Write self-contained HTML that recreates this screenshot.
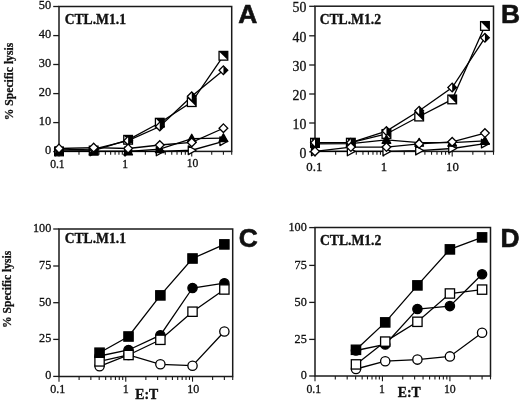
<!DOCTYPE html>
<html><head><meta charset="utf-8"><style>
html,body{margin:0;padding:0;background:#fff;}
svg{display:block;will-change:transform;}
</style></head><body>
<svg width="520" height="401" viewBox="0 0 520 401">
<rect width="520" height="401" fill="#fff"/>
<rect x="59" y="6.5" width="172.7" height="144.9" fill="none" stroke="#1a1a1a" stroke-width="1.5"/>
<line x1="53.2" y1="151.6" x2="59" y2="151.6" stroke="#1a1a1a" stroke-width="1.3"/>
<line x1="53.2" y1="122.6" x2="59" y2="122.6" stroke="#1a1a1a" stroke-width="1.3"/>
<line x1="53.2" y1="93.6" x2="59" y2="93.6" stroke="#1a1a1a" stroke-width="1.3"/>
<line x1="53.2" y1="64.5" x2="59" y2="64.5" stroke="#1a1a1a" stroke-width="1.3"/>
<line x1="53.2" y1="35.6" x2="59" y2="35.6" stroke="#1a1a1a" stroke-width="1.3"/>
<line x1="53.2" y1="6.5" x2="59" y2="6.5" stroke="#1a1a1a" stroke-width="1.3"/>
<line x1="59" y1="151.4" x2="59" y2="156.6" stroke="#1a1a1a" stroke-width="1.1"/>
<line x1="78.98" y1="151.4" x2="78.98" y2="154.8" stroke="#1a1a1a" stroke-width="1.1"/>
<line x1="90.67" y1="151.4" x2="90.67" y2="154.8" stroke="#1a1a1a" stroke-width="1.1"/>
<line x1="98.96" y1="151.4" x2="98.96" y2="154.8" stroke="#1a1a1a" stroke-width="1.1"/>
<line x1="105.39" y1="151.4" x2="105.39" y2="154.8" stroke="#1a1a1a" stroke-width="1.1"/>
<line x1="110.65" y1="151.4" x2="110.65" y2="154.8" stroke="#1a1a1a" stroke-width="1.1"/>
<line x1="115.09" y1="151.4" x2="115.09" y2="154.8" stroke="#1a1a1a" stroke-width="1.1"/>
<line x1="118.94" y1="151.4" x2="118.94" y2="154.8" stroke="#1a1a1a" stroke-width="1.1"/>
<line x1="122.33" y1="151.4" x2="122.33" y2="154.8" stroke="#1a1a1a" stroke-width="1.1"/>
<line x1="125.37" y1="151.4" x2="125.37" y2="156.6" stroke="#1a1a1a" stroke-width="1.1"/>
<line x1="145.35" y1="151.4" x2="145.35" y2="154.8" stroke="#1a1a1a" stroke-width="1.1"/>
<line x1="157.04" y1="151.4" x2="157.04" y2="154.8" stroke="#1a1a1a" stroke-width="1.1"/>
<line x1="165.33" y1="151.4" x2="165.33" y2="154.8" stroke="#1a1a1a" stroke-width="1.1"/>
<line x1="171.76" y1="151.4" x2="171.76" y2="154.8" stroke="#1a1a1a" stroke-width="1.1"/>
<line x1="177.02" y1="151.4" x2="177.02" y2="154.8" stroke="#1a1a1a" stroke-width="1.1"/>
<line x1="181.46" y1="151.4" x2="181.46" y2="154.8" stroke="#1a1a1a" stroke-width="1.1"/>
<line x1="185.31" y1="151.4" x2="185.31" y2="154.8" stroke="#1a1a1a" stroke-width="1.1"/>
<line x1="188.7" y1="151.4" x2="188.7" y2="154.8" stroke="#1a1a1a" stroke-width="1.1"/>
<line x1="191.74" y1="151.4" x2="191.74" y2="156.6" stroke="#1a1a1a" stroke-width="1.1"/>
<line x1="211.72" y1="151.4" x2="211.72" y2="154.8" stroke="#1a1a1a" stroke-width="1.1"/>
<line x1="223.41" y1="151.4" x2="223.41" y2="154.8" stroke="#1a1a1a" stroke-width="1.1"/>
<line x1="231.7" y1="151.4" x2="231.7" y2="154.8" stroke="#1a1a1a" stroke-width="1.1"/>
<rect x="315" y="6.2" width="178.5" height="145.2" fill="none" stroke="#1a1a1a" stroke-width="1.5"/>
<line x1="309.2" y1="151.8" x2="315" y2="151.8" stroke="#1a1a1a" stroke-width="1.3"/>
<line x1="309.2" y1="123" x2="315" y2="123" stroke="#1a1a1a" stroke-width="1.3"/>
<line x1="309.2" y1="94" x2="315" y2="94" stroke="#1a1a1a" stroke-width="1.3"/>
<line x1="309.2" y1="65" x2="315" y2="65" stroke="#1a1a1a" stroke-width="1.3"/>
<line x1="309.2" y1="35.8" x2="315" y2="35.8" stroke="#1a1a1a" stroke-width="1.3"/>
<line x1="309.2" y1="6.3" x2="315" y2="6.3" stroke="#1a1a1a" stroke-width="1.3"/>
<line x1="315" y1="151.4" x2="315" y2="156.6" stroke="#1a1a1a" stroke-width="1.1"/>
<line x1="335.65" y1="151.4" x2="335.65" y2="154.8" stroke="#1a1a1a" stroke-width="1.1"/>
<line x1="347.73" y1="151.4" x2="347.73" y2="154.8" stroke="#1a1a1a" stroke-width="1.1"/>
<line x1="356.3" y1="151.4" x2="356.3" y2="154.8" stroke="#1a1a1a" stroke-width="1.1"/>
<line x1="362.95" y1="151.4" x2="362.95" y2="154.8" stroke="#1a1a1a" stroke-width="1.1"/>
<line x1="368.38" y1="151.4" x2="368.38" y2="154.8" stroke="#1a1a1a" stroke-width="1.1"/>
<line x1="372.97" y1="151.4" x2="372.97" y2="154.8" stroke="#1a1a1a" stroke-width="1.1"/>
<line x1="376.95" y1="151.4" x2="376.95" y2="154.8" stroke="#1a1a1a" stroke-width="1.1"/>
<line x1="380.46" y1="151.4" x2="380.46" y2="154.8" stroke="#1a1a1a" stroke-width="1.1"/>
<line x1="383.6" y1="151.4" x2="383.6" y2="156.6" stroke="#1a1a1a" stroke-width="1.1"/>
<line x1="404.25" y1="151.4" x2="404.25" y2="154.8" stroke="#1a1a1a" stroke-width="1.1"/>
<line x1="416.33" y1="151.4" x2="416.33" y2="154.8" stroke="#1a1a1a" stroke-width="1.1"/>
<line x1="424.9" y1="151.4" x2="424.9" y2="154.8" stroke="#1a1a1a" stroke-width="1.1"/>
<line x1="431.55" y1="151.4" x2="431.55" y2="154.8" stroke="#1a1a1a" stroke-width="1.1"/>
<line x1="436.98" y1="151.4" x2="436.98" y2="154.8" stroke="#1a1a1a" stroke-width="1.1"/>
<line x1="441.57" y1="151.4" x2="441.57" y2="154.8" stroke="#1a1a1a" stroke-width="1.1"/>
<line x1="445.55" y1="151.4" x2="445.55" y2="154.8" stroke="#1a1a1a" stroke-width="1.1"/>
<line x1="449.06" y1="151.4" x2="449.06" y2="154.8" stroke="#1a1a1a" stroke-width="1.1"/>
<line x1="452.2" y1="151.4" x2="452.2" y2="156.6" stroke="#1a1a1a" stroke-width="1.1"/>
<line x1="472.85" y1="151.4" x2="472.85" y2="154.8" stroke="#1a1a1a" stroke-width="1.1"/>
<line x1="484.93" y1="151.4" x2="484.93" y2="154.8" stroke="#1a1a1a" stroke-width="1.1"/>
<line x1="493.5" y1="151.4" x2="493.5" y2="154.8" stroke="#1a1a1a" stroke-width="1.1"/>
<rect x="59" y="229" width="173.7" height="147.5" fill="none" stroke="#1a1a1a" stroke-width="1.5"/>
<line x1="53.2" y1="376.4" x2="59" y2="376.4" stroke="#1a1a1a" stroke-width="1.3"/>
<line x1="53.2" y1="339.4" x2="59" y2="339.4" stroke="#1a1a1a" stroke-width="1.3"/>
<line x1="53.2" y1="302.7" x2="59" y2="302.7" stroke="#1a1a1a" stroke-width="1.3"/>
<line x1="53.2" y1="266" x2="59" y2="266" stroke="#1a1a1a" stroke-width="1.3"/>
<line x1="53.2" y1="229" x2="59" y2="229" stroke="#1a1a1a" stroke-width="1.3"/>
<line x1="59" y1="376.5" x2="59" y2="381.7" stroke="#1a1a1a" stroke-width="1.1"/>
<line x1="79.1" y1="376.5" x2="79.1" y2="379.9" stroke="#1a1a1a" stroke-width="1.1"/>
<line x1="90.85" y1="376.5" x2="90.85" y2="379.9" stroke="#1a1a1a" stroke-width="1.1"/>
<line x1="99.19" y1="376.5" x2="99.19" y2="379.9" stroke="#1a1a1a" stroke-width="1.1"/>
<line x1="105.66" y1="376.5" x2="105.66" y2="379.9" stroke="#1a1a1a" stroke-width="1.1"/>
<line x1="110.95" y1="376.5" x2="110.95" y2="379.9" stroke="#1a1a1a" stroke-width="1.1"/>
<line x1="115.42" y1="376.5" x2="115.42" y2="379.9" stroke="#1a1a1a" stroke-width="1.1"/>
<line x1="119.29" y1="376.5" x2="119.29" y2="379.9" stroke="#1a1a1a" stroke-width="1.1"/>
<line x1="122.71" y1="376.5" x2="122.71" y2="379.9" stroke="#1a1a1a" stroke-width="1.1"/>
<line x1="125.76" y1="376.5" x2="125.76" y2="381.7" stroke="#1a1a1a" stroke-width="1.1"/>
<line x1="145.86" y1="376.5" x2="145.86" y2="379.9" stroke="#1a1a1a" stroke-width="1.1"/>
<line x1="157.61" y1="376.5" x2="157.61" y2="379.9" stroke="#1a1a1a" stroke-width="1.1"/>
<line x1="165.95" y1="376.5" x2="165.95" y2="379.9" stroke="#1a1a1a" stroke-width="1.1"/>
<line x1="172.42" y1="376.5" x2="172.42" y2="379.9" stroke="#1a1a1a" stroke-width="1.1"/>
<line x1="177.71" y1="376.5" x2="177.71" y2="379.9" stroke="#1a1a1a" stroke-width="1.1"/>
<line x1="182.18" y1="376.5" x2="182.18" y2="379.9" stroke="#1a1a1a" stroke-width="1.1"/>
<line x1="186.05" y1="376.5" x2="186.05" y2="379.9" stroke="#1a1a1a" stroke-width="1.1"/>
<line x1="189.47" y1="376.5" x2="189.47" y2="379.9" stroke="#1a1a1a" stroke-width="1.1"/>
<line x1="192.52" y1="376.5" x2="192.52" y2="381.7" stroke="#1a1a1a" stroke-width="1.1"/>
<line x1="212.62" y1="376.5" x2="212.62" y2="379.9" stroke="#1a1a1a" stroke-width="1.1"/>
<line x1="224.37" y1="376.5" x2="224.37" y2="379.9" stroke="#1a1a1a" stroke-width="1.1"/>
<line x1="232.71" y1="376.5" x2="232.71" y2="379.9" stroke="#1a1a1a" stroke-width="1.1"/>
<rect x="315" y="227.5" width="175.5" height="148.5" fill="none" stroke="#1a1a1a" stroke-width="1.5"/>
<line x1="309.2" y1="376" x2="315" y2="376" stroke="#1a1a1a" stroke-width="1.3"/>
<line x1="309.2" y1="339.4" x2="315" y2="339.4" stroke="#1a1a1a" stroke-width="1.3"/>
<line x1="309.2" y1="302.4" x2="315" y2="302.4" stroke="#1a1a1a" stroke-width="1.3"/>
<line x1="309.2" y1="265.4" x2="315" y2="265.4" stroke="#1a1a1a" stroke-width="1.3"/>
<line x1="309.2" y1="227.6" x2="315" y2="227.6" stroke="#1a1a1a" stroke-width="1.3"/>
<line x1="315" y1="376" x2="315" y2="381.2" stroke="#1a1a1a" stroke-width="1.1"/>
<line x1="335.3" y1="376" x2="335.3" y2="379.4" stroke="#1a1a1a" stroke-width="1.1"/>
<line x1="347.18" y1="376" x2="347.18" y2="379.4" stroke="#1a1a1a" stroke-width="1.1"/>
<line x1="355.61" y1="376" x2="355.61" y2="379.4" stroke="#1a1a1a" stroke-width="1.1"/>
<line x1="362.15" y1="376" x2="362.15" y2="379.4" stroke="#1a1a1a" stroke-width="1.1"/>
<line x1="367.49" y1="376" x2="367.49" y2="379.4" stroke="#1a1a1a" stroke-width="1.1"/>
<line x1="372" y1="376" x2="372" y2="379.4" stroke="#1a1a1a" stroke-width="1.1"/>
<line x1="375.91" y1="376" x2="375.91" y2="379.4" stroke="#1a1a1a" stroke-width="1.1"/>
<line x1="379.36" y1="376" x2="379.36" y2="379.4" stroke="#1a1a1a" stroke-width="1.1"/>
<line x1="382.45" y1="376" x2="382.45" y2="381.2" stroke="#1a1a1a" stroke-width="1.1"/>
<line x1="402.75" y1="376" x2="402.75" y2="379.4" stroke="#1a1a1a" stroke-width="1.1"/>
<line x1="414.63" y1="376" x2="414.63" y2="379.4" stroke="#1a1a1a" stroke-width="1.1"/>
<line x1="423.06" y1="376" x2="423.06" y2="379.4" stroke="#1a1a1a" stroke-width="1.1"/>
<line x1="429.6" y1="376" x2="429.6" y2="379.4" stroke="#1a1a1a" stroke-width="1.1"/>
<line x1="434.94" y1="376" x2="434.94" y2="379.4" stroke="#1a1a1a" stroke-width="1.1"/>
<line x1="439.45" y1="376" x2="439.45" y2="379.4" stroke="#1a1a1a" stroke-width="1.1"/>
<line x1="443.36" y1="376" x2="443.36" y2="379.4" stroke="#1a1a1a" stroke-width="1.1"/>
<line x1="446.81" y1="376" x2="446.81" y2="379.4" stroke="#1a1a1a" stroke-width="1.1"/>
<line x1="449.9" y1="376" x2="449.9" y2="381.2" stroke="#1a1a1a" stroke-width="1.1"/>
<line x1="470.2" y1="376" x2="470.2" y2="379.4" stroke="#1a1a1a" stroke-width="1.1"/>
<line x1="482.08" y1="376" x2="482.08" y2="379.4" stroke="#1a1a1a" stroke-width="1.1"/>
<line x1="490.51" y1="376" x2="490.51" y2="379.4" stroke="#1a1a1a" stroke-width="1.1"/>
<text x="51.2" y="154" font-family="Liberation Serif" font-size="12.4" font-weight="normal" text-anchor="end" fill="#111" stroke="#111" stroke-width="0.3" >0</text>
<text x="51.2" y="125" font-family="Liberation Serif" font-size="12.4" font-weight="normal" text-anchor="end" fill="#111" stroke="#111" stroke-width="0.3" >10</text>
<text x="51.2" y="96" font-family="Liberation Serif" font-size="12.4" font-weight="normal" text-anchor="end" fill="#111" stroke="#111" stroke-width="0.3" >20</text>
<text x="51.2" y="66.9" font-family="Liberation Serif" font-size="12.4" font-weight="normal" text-anchor="end" fill="#111" stroke="#111" stroke-width="0.3" >30</text>
<text x="51.2" y="38" font-family="Liberation Serif" font-size="12.4" font-weight="normal" text-anchor="end" fill="#111" stroke="#111" stroke-width="0.3" >40</text>
<text x="51.2" y="8.9" font-family="Liberation Serif" font-size="12.4" font-weight="normal" text-anchor="end" fill="#111" stroke="#111" stroke-width="0.3" >50</text>
<text x="306.3" y="157.6" font-family="Liberation Serif" font-size="13.8" font-weight="normal" text-anchor="end" fill="#111" stroke="#111" stroke-width="0.3" >0</text>
<text x="306.3" y="128.8" font-family="Liberation Serif" font-size="13.8" font-weight="normal" text-anchor="end" fill="#111" stroke="#111" stroke-width="0.3" >10</text>
<text x="306.3" y="99.8" font-family="Liberation Serif" font-size="13.8" font-weight="normal" text-anchor="end" fill="#111" stroke="#111" stroke-width="0.3" >20</text>
<text x="306.3" y="70.8" font-family="Liberation Serif" font-size="13.8" font-weight="normal" text-anchor="end" fill="#111" stroke="#111" stroke-width="0.3" >30</text>
<text x="306.3" y="41.6" font-family="Liberation Serif" font-size="13.8" font-weight="normal" text-anchor="end" fill="#111" stroke="#111" stroke-width="0.3" >40</text>
<text x="306.3" y="12.1" font-family="Liberation Serif" font-size="13.8" font-weight="normal" text-anchor="end" fill="#111" stroke="#111" stroke-width="0.3" >50</text>
<text x="51.3" y="379.4" font-family="Liberation Serif" font-size="12.2" font-weight="normal" text-anchor="end" fill="#111" stroke="#111" stroke-width="0.3" >0</text>
<text x="51.3" y="342.4" font-family="Liberation Serif" font-size="12.2" font-weight="normal" text-anchor="end" fill="#111" stroke="#111" stroke-width="0.3" >25</text>
<text x="51.3" y="305.7" font-family="Liberation Serif" font-size="12.2" font-weight="normal" text-anchor="end" fill="#111" stroke="#111" stroke-width="0.3" >50</text>
<text x="51.3" y="269" font-family="Liberation Serif" font-size="12.2" font-weight="normal" text-anchor="end" fill="#111" stroke="#111" stroke-width="0.3" >75</text>
<text x="51.3" y="232" font-family="Liberation Serif" font-size="12.2" font-weight="normal" text-anchor="end" fill="#111" stroke="#111" stroke-width="0.3" >100</text>
<text x="306.8" y="379.2" font-family="Liberation Serif" font-size="12.2" font-weight="normal" text-anchor="end" fill="#111" stroke="#111" stroke-width="0.3" >0</text>
<text x="306.8" y="342.6" font-family="Liberation Serif" font-size="12.2" font-weight="normal" text-anchor="end" fill="#111" stroke="#111" stroke-width="0.3" >25</text>
<text x="306.8" y="305.6" font-family="Liberation Serif" font-size="12.2" font-weight="normal" text-anchor="end" fill="#111" stroke="#111" stroke-width="0.3" >50</text>
<text x="306.8" y="268.6" font-family="Liberation Serif" font-size="12.2" font-weight="normal" text-anchor="end" fill="#111" stroke="#111" stroke-width="0.3" >75</text>
<text x="306.8" y="230.8" font-family="Liberation Serif" font-size="12.2" font-weight="normal" text-anchor="end" fill="#111" stroke="#111" stroke-width="0.3" >100</text>
<text x="57.4" y="167.9" font-family="Liberation Serif" font-size="11.6" font-weight="normal" text-anchor="middle" fill="#111" stroke="#111" stroke-width="0.3" >0.1</text>
<text x="125.25" y="167.7" font-family="Liberation Serif" font-size="11.6" font-weight="normal" text-anchor="middle" fill="#111" stroke="#111" stroke-width="0.3" >1</text>
<text x="192.5" y="167.3" font-family="Liberation Serif" font-size="11.6" font-weight="normal" text-anchor="middle" fill="#111" stroke="#111" stroke-width="0.3" >10</text>
<text x="314.3" y="171" font-family="Liberation Serif" font-size="12.8" font-weight="normal" text-anchor="middle" fill="#111" stroke="#111" stroke-width="0.3" >0.1</text>
<text x="384" y="170.8" font-family="Liberation Serif" font-size="12.8" font-weight="normal" text-anchor="middle" fill="#111" stroke="#111" stroke-width="0.3" >1</text>
<text x="452.5" y="170.8" font-family="Liberation Serif" font-size="12.8" font-weight="normal" text-anchor="middle" fill="#111" stroke="#111" stroke-width="0.3" >10</text>
<text x="57.75" y="393" font-family="Liberation Serif" font-size="12.0" font-weight="normal" text-anchor="middle" fill="#111" stroke="#111" stroke-width="0.3" >0.1</text>
<text x="125.8" y="392.8" font-family="Liberation Serif" font-size="12.0" font-weight="normal" text-anchor="middle" fill="#111" stroke="#111" stroke-width="0.3" >1</text>
<text x="193.2" y="393" font-family="Liberation Serif" font-size="12.0" font-weight="normal" text-anchor="middle" fill="#111" stroke="#111" stroke-width="0.3" >10</text>
<text x="313.8" y="392.8" font-family="Liberation Serif" font-size="11.8" font-weight="normal" text-anchor="middle" fill="#111" stroke="#111" stroke-width="0.3" >0.1</text>
<text x="381.9" y="392.7" font-family="Liberation Serif" font-size="11.8" font-weight="normal" text-anchor="middle" fill="#111" stroke="#111" stroke-width="0.3" >1</text>
<text x="449.8" y="392.8" font-family="Liberation Serif" font-size="11.8" font-weight="normal" text-anchor="middle" fill="#111" stroke="#111" stroke-width="0.3" >10</text>
<text x="64.7" y="23.8" font-family="Liberation Serif" font-size="13.8" font-weight="bold" text-anchor="start" fill="#111" stroke="#111" stroke-width="0.35" textLength="61.3" lengthAdjust="spacingAndGlyphs">CTL.M1.1</text>
<text x="319.7" y="23.8" font-family="Liberation Serif" font-size="13.8" font-weight="bold" text-anchor="start" fill="#111" stroke="#111" stroke-width="0.35" textLength="61.3" lengthAdjust="spacingAndGlyphs">CTL.M1.2</text>
<text x="64.7" y="243.1" font-family="Liberation Serif" font-size="13.8" font-weight="bold" text-anchor="start" fill="#111" stroke="#111" stroke-width="0.35" textLength="61.3" lengthAdjust="spacingAndGlyphs">CTL.M1.1</text>
<text x="320" y="244.6" font-family="Liberation Serif" font-size="13.8" font-weight="bold" text-anchor="start" fill="#111" stroke="#111" stroke-width="0.35" textLength="61.3" lengthAdjust="spacingAndGlyphs">CTL.M1.2</text>
<text x="238.2" y="22.7" font-family="Liberation Sans" font-size="26.4" font-weight="bold" text-anchor="start" fill="#111" stroke="#111" stroke-width="0.6" >A</text>
<text x="500.9" y="22.8" font-family="Liberation Sans" font-size="26.4" font-weight="bold" text-anchor="start" fill="#111" stroke="#111" stroke-width="0.6" >B</text>
<text x="238.8" y="246.8" font-family="Liberation Sans" font-size="26.4" font-weight="bold" text-anchor="start" fill="#111" stroke="#111" stroke-width="0.6" >C</text>
<text x="500.5" y="247.1" font-family="Liberation Sans" font-size="26.4" font-weight="bold" text-anchor="start" fill="#111" stroke="#111" stroke-width="0.6" >D</text>
<text transform="translate(13.2,81.5) rotate(-90)" x="0" y="0" font-family="Liberation Serif" font-size="11.6" font-weight="bold" text-anchor="middle" fill="#111" stroke="#111" stroke-width="0.25">% Specific lysis</text>
<text transform="translate(10.7,289.3) rotate(-90)" x="0" y="0" font-family="Liberation Serif" font-size="11.6" font-weight="bold" text-anchor="middle" fill="#111" stroke="#111" stroke-width="0.25">% Specific lysis</text>
<text x="135.3" y="399" font-family="Liberation Serif" font-size="13.8" font-weight="bold" text-anchor="start" fill="#111" stroke="#111" stroke-width="0.35" >E:T</text>
<text x="397.8" y="396.9" font-family="Liberation Serif" font-size="13.8" font-weight="bold" text-anchor="start" fill="#111" stroke="#111" stroke-width="0.35" >E:T</text>
<path d="M59,151.4 L93.67,151.4 L128.12,151.4 L159.78,151.4 L191.74,150.24 L223.41,141.26" fill="none" stroke="#000" stroke-width="1.3"/>
<path d="M59,151.4 L93.67,150.53 L128.12,139.81 L159.78,122.71 L191.74,102.13 L223.41,55.77" fill="none" stroke="#000" stroke-width="1.3"/>
<path d="M59,151.4 L93.67,151.4 L128.12,151.4 L159.78,149.08 L191.74,138.65 L223.41,138.07" fill="none" stroke="#000" stroke-width="1.3"/>
<path d="M59,149.95 L93.67,149.08 L128.12,140.68 L159.78,126.48 L191.74,96.34 L223.41,70.26" fill="none" stroke="#000" stroke-width="1.3"/>
<path d="M59,148.5 L93.67,147.63 L128.12,148.5 L159.78,145.02 L191.74,142.42 L223.41,128.22" fill="none" stroke="#000" stroke-width="1.3"/>
<path d="M315,151.4 L350.84,151.4 L386.44,151.4 L419.17,150.53 L452.2,148.5 L484.93,143.56" fill="none" stroke="#000" stroke-width="1.3"/>
<path d="M315,142.69 L350.84,142.69 L386.44,133.98 L419.17,116.55 L452.2,99.42 L484.93,25.95" fill="none" stroke="#000" stroke-width="1.3"/>
<path d="M315,143.85 L350.84,143.56 L386.44,139.78 L419.17,142.69 L452.2,142.69 L484.93,140.95" fill="none" stroke="#000" stroke-width="1.3"/>
<path d="M315,142.69 L350.84,142.69 L386.44,131.07 L419.17,110.74 L452.2,87.51 L484.93,37.85" fill="none" stroke="#000" stroke-width="1.3"/>
<path d="M315,151.4 L350.84,147.04 L386.44,147.04 L419.17,143.85 L452.2,141.82 L484.93,133.1" fill="none" stroke="#000" stroke-width="1.3"/>
<path d="M99.55,366.3 L128.52,355 L160.38,364.3 L192.52,365.7 L224.37,331.5" fill="none" stroke="#000" stroke-width="1.3"/>
<path d="M99.55,356 L128.52,350 L160.38,335.2 L192.52,288 L224.37,283.2" fill="none" stroke="#000" stroke-width="1.3"/>
<path d="M99.55,361.4 L128.52,355 L160.38,339.8 L192.52,311.7 L224.37,289.5" fill="none" stroke="#000" stroke-width="1.3"/>
<path d="M99.55,352.7 L128.52,336.5 L160.38,295.4 L192.52,258.5 L224.37,244.4" fill="none" stroke="#000" stroke-width="1.3"/>
<path d="M355.97,369 L385.24,361.2 L417.42,359.6 L449.9,356.4 L482.08,332.7" fill="none" stroke="#000" stroke-width="1.3"/>
<path d="M355.97,350.5 L385.24,344.5 L417.42,309 L449.9,306.1 L482.08,274.3" fill="none" stroke="#000" stroke-width="1.3"/>
<path d="M355.97,364.4 L385.24,341.6 L417.42,321.8 L449.9,293.5 L482.08,289.6" fill="none" stroke="#000" stroke-width="1.3"/>
<path d="M355.97,349.8 L385.24,322.4 L417.42,285.4 L449.9,249.4 L482.08,237.4" fill="none" stroke="#000" stroke-width="1.3"/>
<path d="M63.35,151.4L55.52,147.05L55.52,155.75Z" fill="#fff" stroke="#000" stroke-width="1.3" stroke-linejoin="round"/>
<path d="M98.02,151.4L90.19,147.05L90.19,155.75Z" fill="#fff" stroke="#000" stroke-width="1.3" stroke-linejoin="round"/>
<path d="M132.47,151.4L124.64,147.05L124.64,155.75Z" fill="#fff" stroke="#000" stroke-width="1.3" stroke-linejoin="round"/>
<path d="M164.13,151.4L156.3,147.05L156.3,155.75Z" fill="#fff" stroke="#000" stroke-width="1.3" stroke-linejoin="round"/>
<path d="M196.09,150.24L188.26,145.89L188.26,154.59Z" fill="#fff" stroke="#000" stroke-width="1.3" stroke-linejoin="round"/>
<path d="M227.76,141.26L219.93,136.91L219.93,145.61Z" fill="#fff" stroke="#000" stroke-width="1.3" stroke-linejoin="round"/>
<rect x="54.65" y="147.05" width="8.7" height="8.7" fill="#fff" stroke="#000" stroke-width="1.3"/><path d="M54.65,147.05L63.35,147.05L63.35,155.75Z" fill="#000"/>
<rect x="89.32" y="146.18" width="8.7" height="8.7" fill="#fff" stroke="#000" stroke-width="1.3"/><path d="M89.32,146.18L98.02,146.18L98.02,154.88Z" fill="#000"/>
<rect x="123.77" y="135.46" width="8.7" height="8.7" fill="#fff" stroke="#000" stroke-width="1.3"/><path d="M123.77,135.46L132.47,135.46L132.47,144.16Z" fill="#000"/>
<rect x="155.43" y="118.36" width="8.7" height="8.7" fill="#fff" stroke="#000" stroke-width="1.3"/><path d="M155.43,118.36L164.13,118.36L164.13,127.06Z" fill="#000"/>
<rect x="187.39" y="97.78" width="8.7" height="8.7" fill="#fff" stroke="#000" stroke-width="1.3"/><path d="M187.39,97.78L196.09,97.78L196.09,106.48Z" fill="#000"/>
<rect x="219.06" y="51.42" width="8.7" height="8.7" fill="#fff" stroke="#000" stroke-width="1.3"/><path d="M219.06,51.42L227.76,51.42L227.76,60.12Z" fill="#000"/>
<path d="M59,147.05L63.35,154.88L54.65,154.88Z" fill="#000" stroke="#000" stroke-width="1.3" stroke-linejoin="round"/>
<path d="M93.67,147.05L98.02,154.88L89.32,154.88Z" fill="#000" stroke="#000" stroke-width="1.3" stroke-linejoin="round"/>
<path d="M128.12,147.05L132.47,154.88L123.77,154.88Z" fill="#000" stroke="#000" stroke-width="1.3" stroke-linejoin="round"/>
<path d="M159.78,144.73L164.13,152.56L155.43,152.56Z" fill="#000" stroke="#000" stroke-width="1.3" stroke-linejoin="round"/>
<path d="M191.74,134.3L196.09,142.13L187.39,142.13Z" fill="#000" stroke="#000" stroke-width="1.3" stroke-linejoin="round"/>
<path d="M223.41,133.72L227.76,141.55L219.06,141.55Z" fill="#000" stroke="#000" stroke-width="1.3" stroke-linejoin="round"/>
<path d="M59,145.6L63.35,149.95L59,154.3L54.65,149.95Z" fill="#fff" stroke="#000" stroke-width="1.3"/><path d="M59,145.6L63.35,149.95L59,154.3Z" fill="#000"/>
<path d="M93.67,144.73L98.02,149.08L93.67,153.43L89.32,149.08Z" fill="#fff" stroke="#000" stroke-width="1.3"/><path d="M93.67,144.73L98.02,149.08L93.67,153.43Z" fill="#000"/>
<path d="M128.12,136.33L132.47,140.68L128.12,145.03L123.77,140.68Z" fill="#fff" stroke="#000" stroke-width="1.3"/><path d="M128.12,136.33L132.47,140.68L128.12,145.03Z" fill="#000"/>
<path d="M159.78,122.13L164.13,126.48L159.78,130.83L155.43,126.48Z" fill="#fff" stroke="#000" stroke-width="1.3"/><path d="M159.78,122.13L164.13,126.48L159.78,130.83Z" fill="#000"/>
<path d="M191.74,91.99L196.09,96.34L191.74,100.69L187.39,96.34Z" fill="#fff" stroke="#000" stroke-width="1.3"/><path d="M191.74,91.99L196.09,96.34L191.74,100.69Z" fill="#000"/>
<path d="M223.41,65.91L227.76,70.26L223.41,74.61L219.06,70.26Z" fill="#fff" stroke="#000" stroke-width="1.3"/><path d="M223.41,65.91L227.76,70.26L223.41,74.61Z" fill="#000"/>
<path d="M59,144.15L63.35,148.5L59,152.85L54.65,148.5Z" fill="#fff" stroke="#000" stroke-width="1.3" stroke-linejoin="miter"/>
<path d="M93.67,143.28L98.02,147.63L93.67,151.98L89.32,147.63Z" fill="#fff" stroke="#000" stroke-width="1.3" stroke-linejoin="miter"/>
<path d="M128.12,144.15L132.47,148.5L128.12,152.85L123.77,148.5Z" fill="#fff" stroke="#000" stroke-width="1.3" stroke-linejoin="miter"/>
<path d="M159.78,140.67L164.13,145.02L159.78,149.37L155.43,145.02Z" fill="#fff" stroke="#000" stroke-width="1.3" stroke-linejoin="miter"/>
<path d="M191.74,138.07L196.09,142.42L191.74,146.77L187.39,142.42Z" fill="#fff" stroke="#000" stroke-width="1.3" stroke-linejoin="miter"/>
<path d="M223.41,123.87L227.76,128.22L223.41,132.57L219.06,128.22Z" fill="#fff" stroke="#000" stroke-width="1.3" stroke-linejoin="miter"/>
<path d="M319.35,151.4L311.52,147.05L311.52,155.75Z" fill="#fff" stroke="#000" stroke-width="1.3" stroke-linejoin="round"/>
<path d="M355.19,151.4L347.36,147.05L347.36,155.75Z" fill="#fff" stroke="#000" stroke-width="1.3" stroke-linejoin="round"/>
<path d="M390.79,151.4L382.96,147.05L382.96,155.75Z" fill="#fff" stroke="#000" stroke-width="1.3" stroke-linejoin="round"/>
<path d="M423.52,150.53L415.69,146.18L415.69,154.88Z" fill="#fff" stroke="#000" stroke-width="1.3" stroke-linejoin="round"/>
<path d="M456.55,148.5L448.72,144.15L448.72,152.85Z" fill="#fff" stroke="#000" stroke-width="1.3" stroke-linejoin="round"/>
<path d="M489.28,143.56L481.45,139.21L481.45,147.91Z" fill="#fff" stroke="#000" stroke-width="1.3" stroke-linejoin="round"/>
<rect x="310.65" y="138.34" width="8.7" height="8.7" fill="#fff" stroke="#000" stroke-width="1.3"/><path d="M310.65,138.34L319.35,138.34L319.35,147.04Z" fill="#000"/>
<rect x="346.49" y="138.34" width="8.7" height="8.7" fill="#fff" stroke="#000" stroke-width="1.3"/><path d="M346.49,138.34L355.19,138.34L355.19,147.04Z" fill="#000"/>
<rect x="382.09" y="129.63" width="8.7" height="8.7" fill="#fff" stroke="#000" stroke-width="1.3"/><path d="M382.09,129.63L390.79,129.63L390.79,138.33Z" fill="#000"/>
<rect x="414.82" y="112.2" width="8.7" height="8.7" fill="#fff" stroke="#000" stroke-width="1.3"/><path d="M414.82,112.2L423.52,112.2L423.52,120.9Z" fill="#000"/>
<rect x="447.85" y="95.07" width="8.7" height="8.7" fill="#fff" stroke="#000" stroke-width="1.3"/><path d="M447.85,95.07L456.55,95.07L456.55,103.77Z" fill="#000"/>
<rect x="480.58" y="21.6" width="8.7" height="8.7" fill="#fff" stroke="#000" stroke-width="1.3"/><path d="M480.58,21.6L489.28,21.6L489.28,30.3Z" fill="#000"/>
<path d="M315,139.5L319.35,147.33L310.65,147.33Z" fill="#000" stroke="#000" stroke-width="1.3" stroke-linejoin="round"/>
<path d="M350.84,139.21L355.19,147.04L346.49,147.04Z" fill="#000" stroke="#000" stroke-width="1.3" stroke-linejoin="round"/>
<path d="M386.44,135.43L390.79,143.26L382.09,143.26Z" fill="#000" stroke="#000" stroke-width="1.3" stroke-linejoin="round"/>
<path d="M419.17,138.34L423.52,146.17L414.82,146.17Z" fill="#000" stroke="#000" stroke-width="1.3" stroke-linejoin="round"/>
<path d="M452.2,138.34L456.55,146.17L447.85,146.17Z" fill="#000" stroke="#000" stroke-width="1.3" stroke-linejoin="round"/>
<path d="M484.93,136.6L489.28,144.43L480.58,144.43Z" fill="#000" stroke="#000" stroke-width="1.3" stroke-linejoin="round"/>
<path d="M315,138.34L319.35,142.69L315,147.04L310.65,142.69Z" fill="#fff" stroke="#000" stroke-width="1.3"/><path d="M315,138.34L319.35,142.69L315,147.04Z" fill="#000"/>
<path d="M350.84,138.34L355.19,142.69L350.84,147.04L346.49,142.69Z" fill="#fff" stroke="#000" stroke-width="1.3"/><path d="M350.84,138.34L355.19,142.69L350.84,147.04Z" fill="#000"/>
<path d="M386.44,126.72L390.79,131.07L386.44,135.42L382.09,131.07Z" fill="#fff" stroke="#000" stroke-width="1.3"/><path d="M386.44,126.72L390.79,131.07L386.44,135.42Z" fill="#000"/>
<path d="M419.17,106.39L423.52,110.74L419.17,115.09L414.82,110.74Z" fill="#fff" stroke="#000" stroke-width="1.3"/><path d="M419.17,106.39L423.52,110.74L419.17,115.09Z" fill="#000"/>
<path d="M452.2,83.16L456.55,87.51L452.2,91.86L447.85,87.51Z" fill="#fff" stroke="#000" stroke-width="1.3"/><path d="M452.2,83.16L456.55,87.51L452.2,91.86Z" fill="#000"/>
<path d="M484.93,33.5L489.28,37.85L484.93,42.2L480.58,37.85Z" fill="#fff" stroke="#000" stroke-width="1.3"/><path d="M484.93,33.5L489.28,37.85L484.93,42.2Z" fill="#000"/>
<path d="M315,147.05L319.35,151.4L315,155.75L310.65,151.4Z" fill="#fff" stroke="#000" stroke-width="1.3" stroke-linejoin="miter"/>
<path d="M350.84,142.69L355.19,147.04L350.84,151.39L346.49,147.04Z" fill="#fff" stroke="#000" stroke-width="1.3" stroke-linejoin="miter"/>
<path d="M386.44,142.69L390.79,147.04L386.44,151.39L382.09,147.04Z" fill="#fff" stroke="#000" stroke-width="1.3" stroke-linejoin="miter"/>
<path d="M419.17,139.5L423.52,143.85L419.17,148.2L414.82,143.85Z" fill="#fff" stroke="#000" stroke-width="1.3" stroke-linejoin="miter"/>
<path d="M452.2,137.47L456.55,141.82L452.2,146.17L447.85,141.82Z" fill="#fff" stroke="#000" stroke-width="1.3" stroke-linejoin="miter"/>
<path d="M484.93,128.75L489.28,133.1L484.93,137.45L480.58,133.1Z" fill="#fff" stroke="#000" stroke-width="1.3" stroke-linejoin="miter"/>
<circle cx="99.55" cy="366.3" r="4.65" fill="#fff" stroke="#000" stroke-width="1.3"/>
<circle cx="128.52" cy="355" r="4.65" fill="#fff" stroke="#000" stroke-width="1.3"/>
<circle cx="160.38" cy="364.3" r="4.65" fill="#fff" stroke="#000" stroke-width="1.3"/>
<circle cx="192.52" cy="365.7" r="4.65" fill="#fff" stroke="#000" stroke-width="1.3"/>
<circle cx="224.37" cy="331.5" r="4.65" fill="#fff" stroke="#000" stroke-width="1.3"/>
<circle cx="99.55" cy="356" r="4.65" fill="#000" stroke="#000" stroke-width="1.3"/>
<circle cx="128.52" cy="350" r="4.65" fill="#000" stroke="#000" stroke-width="1.3"/>
<circle cx="160.38" cy="335.2" r="4.65" fill="#000" stroke="#000" stroke-width="1.3"/>
<circle cx="192.52" cy="288" r="4.65" fill="#000" stroke="#000" stroke-width="1.3"/>
<circle cx="224.37" cy="283.2" r="4.65" fill="#000" stroke="#000" stroke-width="1.3"/>
<rect x="94.9" y="356.75" width="9.3" height="9.3" fill="#fff" stroke="#000" stroke-width="1.3"/>
<rect x="123.87" y="350.35" width="9.3" height="9.3" fill="#fff" stroke="#000" stroke-width="1.3"/>
<rect x="155.73" y="335.15" width="9.3" height="9.3" fill="#fff" stroke="#000" stroke-width="1.3"/>
<rect x="187.87" y="307.05" width="9.3" height="9.3" fill="#fff" stroke="#000" stroke-width="1.3"/>
<rect x="219.72" y="284.85" width="9.3" height="9.3" fill="#fff" stroke="#000" stroke-width="1.3"/>
<rect x="94.9" y="348.05" width="9.3" height="9.3" fill="#000" stroke="#000" stroke-width="1.3"/>
<rect x="123.87" y="331.85" width="9.3" height="9.3" fill="#000" stroke="#000" stroke-width="1.3"/>
<rect x="155.73" y="290.75" width="9.3" height="9.3" fill="#000" stroke="#000" stroke-width="1.3"/>
<rect x="187.87" y="253.85" width="9.3" height="9.3" fill="#000" stroke="#000" stroke-width="1.3"/>
<rect x="219.72" y="239.75" width="9.3" height="9.3" fill="#000" stroke="#000" stroke-width="1.3"/>
<circle cx="355.97" cy="369" r="4.65" fill="#fff" stroke="#000" stroke-width="1.3"/>
<circle cx="385.24" cy="361.2" r="4.65" fill="#fff" stroke="#000" stroke-width="1.3"/>
<circle cx="417.42" cy="359.6" r="4.65" fill="#fff" stroke="#000" stroke-width="1.3"/>
<circle cx="449.9" cy="356.4" r="4.65" fill="#fff" stroke="#000" stroke-width="1.3"/>
<circle cx="482.08" cy="332.7" r="4.65" fill="#fff" stroke="#000" stroke-width="1.3"/>
<circle cx="355.97" cy="350.5" r="4.65" fill="#000" stroke="#000" stroke-width="1.3"/>
<circle cx="385.24" cy="344.5" r="4.65" fill="#000" stroke="#000" stroke-width="1.3"/>
<circle cx="417.42" cy="309" r="4.65" fill="#000" stroke="#000" stroke-width="1.3"/>
<circle cx="449.9" cy="306.1" r="4.65" fill="#000" stroke="#000" stroke-width="1.3"/>
<circle cx="482.08" cy="274.3" r="4.65" fill="#000" stroke="#000" stroke-width="1.3"/>
<rect x="351.32" y="359.75" width="9.3" height="9.3" fill="#fff" stroke="#000" stroke-width="1.3"/>
<rect x="380.59" y="336.95" width="9.3" height="9.3" fill="#fff" stroke="#000" stroke-width="1.3"/>
<rect x="412.77" y="317.15" width="9.3" height="9.3" fill="#fff" stroke="#000" stroke-width="1.3"/>
<rect x="445.25" y="288.85" width="9.3" height="9.3" fill="#fff" stroke="#000" stroke-width="1.3"/>
<rect x="477.43" y="284.95" width="9.3" height="9.3" fill="#fff" stroke="#000" stroke-width="1.3"/>
<rect x="351.32" y="345.15" width="9.3" height="9.3" fill="#000" stroke="#000" stroke-width="1.3"/>
<rect x="380.59" y="317.75" width="9.3" height="9.3" fill="#000" stroke="#000" stroke-width="1.3"/>
<rect x="412.77" y="280.75" width="9.3" height="9.3" fill="#000" stroke="#000" stroke-width="1.3"/>
<rect x="445.25" y="244.75" width="9.3" height="9.3" fill="#000" stroke="#000" stroke-width="1.3"/>
<rect x="477.43" y="232.75" width="9.3" height="9.3" fill="#000" stroke="#000" stroke-width="1.3"/>
</svg>
</body></html>
